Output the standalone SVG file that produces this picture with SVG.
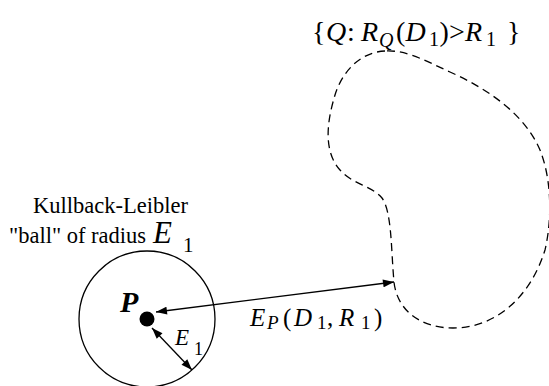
<svg xmlns="http://www.w3.org/2000/svg" width="549" height="386" viewBox="0 0 549 386">
<style>
.t{font-family:'Liberation Serif','DejaVu Serif',serif;fill:#000}
.i{font-style:italic}
.b{font-weight:bold}
.line{stroke:#000;stroke-width:1.3;fill:none}
.dash{stroke:#000;stroke-width:1.3;fill:none;stroke-dasharray:8 5}
</style>
<defs>
<marker id="ah" viewBox="0 0 11 8" refX="11" refY="4" markerWidth="12" markerHeight="8" orient="auto-start-reverse" markerUnits="userSpaceOnUse"><path d="M0,0 L11,4 L0,8 Z" fill="#000"/></marker>
</defs>
<rect width="549" height="386" fill="#fff"/>
<g id="region">
<path class="dash" d="M 385 51 C 360 52, 342 72, 335 95 C 328 118, 322 150, 340 170 C 352 184, 372 186, 382 198 C 392 212, 391 250, 394 282 C 397 310, 420 328, 453 328 C 495 328, 530 298, 545 250 C 552 220, 552 180, 540 150 C 525 115, 490 90, 450 72 C 420 58, 405 50, 385 51 Z"/>
<text class="t" x="312" y="41" font-size="28">{<tspan class="i" x="326">Q</tspan><tspan x="347">:</tspan><tspan class="i" x="361">R</tspan><tspan class="i" x="379" y="47" font-size="20">Q</tspan><tspan x="396" y="41">(</tspan><tspan class="i" x="405.5">D</tspan><tspan x="429" y="46" font-size="20">1</tspan><tspan x="439.5" y="41">)</tspan><tspan x="449">&gt;</tspan><tspan class="i" x="465">R</tspan><tspan x="486" y="46" font-size="20">1</tspan><tspan x="507" y="41">}</tspan></text>
</g>
<g id="ball">
<circle class="line" cx="147" cy="319" r="68"/>
<circle cx="147" cy="319" r="7.5" fill="#000"/>
<text class="t i b" x="120" y="312" font-size="30">P</text>
<text class="t" x="33" y="213" font-size="22.5">Kullback-Leibler</text>
<text class="t" x="9" y="243" font-size="22.5">"ball" of radius</text>
<text class="t i" x="153" y="243" font-size="31">E</text>
<text class="t" x="183" y="252" font-size="21">1</text>
</g>
<g id="connectors">
<line class="line" x1="156" y1="312" x2="394" y2="282" marker-start="url(#ah)" marker-end="url(#ah)"/>
<line class="line" x1="152" y1="328" x2="192" y2="370" marker-start="url(#ah)" marker-end="url(#ah)"/>
</g>
<g id="labels">
<text class="t i" x="175" y="345" font-size="23">E</text>
<text class="t" x="194" y="355" font-size="18">1</text>
<text class="t" font-size="25" y="326"><tspan class="i" x="250">E</tspan><tspan class="i" x="267" y="329" font-size="19">P</tspan><tspan x="283" y="326">(</tspan><tspan class="i" x="294">D</tspan><tspan x="317" y="329" font-size="19">1</tspan><tspan x="327" y="326">,</tspan><tspan class="i" x="339">R</tspan><tspan x="361" y="329" font-size="19">1</tspan><tspan x="374" y="326">)</tspan></text>
</g>
</svg>
